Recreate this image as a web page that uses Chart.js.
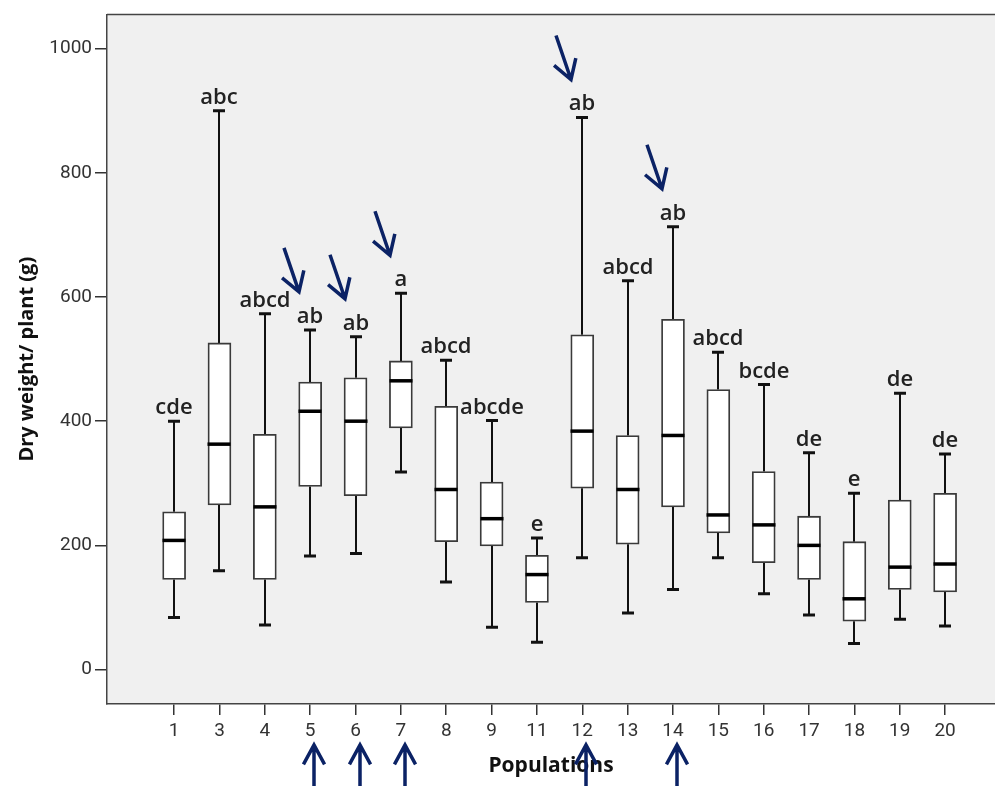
<!DOCTYPE html>
<html>
<head>
<meta charset="utf-8">
<script src="https://cdn.jsdelivr.net/npm/chart.js@4.4.1/dist/chart.umd.min.js"></script>
<style>
  html, body { margin: 0; padding: 0; background: #fff; }
  #wrap { width: 995px; height: 786px; }
</style>
</head>
<body>
<div id="wrap"><canvas id="boxChart" width="995" height="786"></canvas></div>
<script>
// Populations on the x axis
const populations = ["1", "3", "4", "5", "6", "7", "8", "9", "11", "12", "13", "14", "15", "16", "17", "18", "19", "20"];

// Box plot values, dry weight per plant (g)
const whiskerLow  = [84, 159, 72, 183, 187, 318, 141, 68, 44, 180, 91, 129, 180, 122, 88, 42, 81, 70];
const quartile1   = [145, 265, 145, 295, 280, 389, 206, 199, 108, 292, 202, 262, 220, 172, 145, 78, 129, 125];
const medians     = [208, 363, 262, 416, 400, 465, 290, 243, 153, 384, 290, 377, 249, 233, 200, 114, 165, 170];
const quartile3   = [254, 526, 379, 463, 470, 497, 424, 302, 184, 539, 377, 564, 451, 319, 247, 206, 273, 284];
const whiskerHigh = [400, 900, 573, 547, 536, 606, 498, 401, 212, 889, 626, 713, 511, 459, 349, 284, 445, 347];

// Significance letters above each box
const letters = ["cde", "abc", "abcd", "ab", "ab", "a", "abcd", "abcde", "e", "ab", "abcd", "ab", "abcd", "bcde", "de", "e", "de", "de"];

// Populations marked with arrows
const marked = ["5", "6", "7", "12", "14"];

// y ticks
const yTicks = [0, 200, 400, 600, 800, 1000];

const ARROW_COLOR = "#0b2265";

function drawArrow(ctx, x1, y1, x2, y2, headLen, spread) {
    const ang = Math.atan2(y1 - y2, x1 - x2);
    ctx.beginPath();
    ctx.moveTo(x1, y1);
    ctx.lineTo(x2, y2);
    ctx.moveTo(x2 + headLen * Math.cos(ang + spread), y2 + headLen * Math.sin(ang + spread));
    ctx.lineTo(x2, y2);
    ctx.lineTo(x2 + headLen * Math.cos(ang - spread), y2 + headLen * Math.sin(ang - spread));
    ctx.stroke();
}

const boxPlotPlugin = {
    id: "boxPlot",
    beforeDraw(chart) {
        const { ctx, chartArea } = chart;
        ctx.save();
        ctx.fillStyle = "#f0f0f0";
        ctx.fillRect(chartArea.left, chartArea.top, chartArea.right - chartArea.left, chartArea.bottom - chartArea.top);
        // top frame line
        ctx.strokeStyle = "#444";
        ctx.lineWidth = 1.5;
        ctx.beginPath();
        ctx.moveTo(chartArea.left, chartArea.top);
        ctx.lineTo(chartArea.right, chartArea.top);
        ctx.stroke();
        ctx.restore();
    },
    beforeDatasetsDraw(chart) {
        const { ctx } = chart;
        const xs = chart.scales.x, ys = chart.scales.y;
        ctx.save();
        ctx.strokeStyle = "#111";
        populations.forEach((p, i) => {
            const cx = Math.round(xs.getPixelForValue(i));
            const yLo = ys.getPixelForValue(whiskerLow[i]);
            const yQ1 = ys.getPixelForValue(quartile1[i]);
            const yQ3 = ys.getPixelForValue(quartile3[i]);
            const yHi = ys.getPixelForValue(whiskerHigh[i]);
            ctx.lineWidth = 2;
            ctx.beginPath();
            ctx.moveTo(cx, yLo); ctx.lineTo(cx, yQ1);
            ctx.moveTo(cx, yQ3); ctx.lineTo(cx, yHi);
            ctx.stroke();
            ctx.lineWidth = 3;
            ctx.beginPath();
            ctx.moveTo(cx - 6, yLo); ctx.lineTo(cx + 6, yLo);
            ctx.moveTo(cx - 6, yHi); ctx.lineTo(cx + 6, yHi);
            ctx.stroke();
        });
        ctx.restore();
    },
    afterDatasetsDraw(chart) {
        const { ctx, chartArea } = chart;
        const xs = chart.scales.x, ys = chart.scales.y;
        ctx.save();
        populations.forEach((p, i) => {
            const cx = Math.round(xs.getPixelForValue(i));
            const yMed = ys.getPixelForValue(medians[i]);
            const yHi = ys.getPixelForValue(whiskerHigh[i]);
            // median
            ctx.strokeStyle = "#000";
            ctx.lineWidth = 3.5;
            ctx.beginPath();
            ctx.moveTo(cx - 11.5, yMed); ctx.lineTo(cx + 11.5, yMed);
            ctx.stroke();
            // letters
            ctx.fillStyle = "#222";
            ctx.font = "600 22px 'Open Sans'";
            ctx.textAlign = "center";
            ctx.textBaseline = "alphabetic";
            ctx.fillText(letters[i], cx, yHi - 7);

            if (marked.includes(p)) {
                ctx.strokeStyle = ARROW_COLOR;
                ctx.lineWidth = 3.5;
                ctx.lineCap = "butt";
                ctx.lineJoin = "miter";
                // down arrow above the letters
                const tx = cx - 11, ty = yHi - 38;
                drawArrow(ctx, tx - 15, ty - 44, tx, ty, 22, 0.55);
                // up arrow below the tick label
                const ux = cx + 4;
                drawArrow(ctx, ux, chart.height + 2, ux, chartArea.bottom + 41, 22, 0.5);
            }
        });
        ctx.restore();
    }
};

const ctx = document.getElementById("boxChart").getContext("2d");

new Chart(ctx, {
    type: "bar",
    data: {
        labels: populations,
        datasets: [{
            data: populations.map((p, i) => ({ x: i, y: [quartile1[i], quartile3[i]] })),
            backgroundColor: "#ffffff",
            borderColor: "#3a3a3a",
            borderWidth: 1.8,
            borderSkipped: false,
            barThickness: 23
        }]
    },
    options: {
        responsive: false,
        animation: false,
        layout: { padding: { top: 13, right: 0, bottom: 0, left: 0 } },
        plugins: {
            legend: { display: false },
            tooltip: { enabled: false }
        },
        scales: {
            x: {
                type: "linear",
                offset: false,
                min: -1.48,
                max: 18.1,
                afterBuildTicks: (scale) => { scale.ticks = populations.map((p, i) => ({ value: i })); },
                afterFit: (scale) => { scale.height = 82; },
                grid: { offset: false, drawOnChartArea: false, tickLength: 11, color: "#333", lineWidth: 1.5 },
                border: { display: true, color: "#444", width: 1.5 },
                ticks: {
                    autoSkip: false,
                    maxRotation: 0,
                    padding: 5,
                    color: "#333",
                    font: { family: "Roboto", size: 19 },
                    callback: (v) => populations[v] ?? ""
                },
                title: {
                    display: true,
                    text: "Populations",
                    color: "#111",
                    font: { family: "'Open Sans'", size: 21, weight: "bold" },
                    padding: { top: 0, bottom: 7 }
                }
            },
            y: {
                min: -55.4,
                max: 1055,
                afterBuildTicks: (scale) => { scale.ticks = yTicks.map(v => ({ value: v })); },
                afterFit: (scale) => { scale.width = 107; },
                grid: { drawOnChartArea: false, tickLength: 12, color: "#333", lineWidth: 1.5 },
                border: { display: true, color: "#444", width: 1.5 },
                ticks: {
                    padding: 3,
                    color: "#333",
                    font: { family: "Roboto", size: 19 },
                    callback: (v) => String(v)
                },
                title: {
                    display: true,
                    text: "Dry weight/ plant (g)",
                    color: "#111",
                    font: { family: "'Open Sans'", size: 20, weight: "bold" },
                    padding: { top: 15, bottom: 0 }
                }
            }
        }
    },
    plugins: [boxPlotPlugin]
});
</script>
</body>
</html>
